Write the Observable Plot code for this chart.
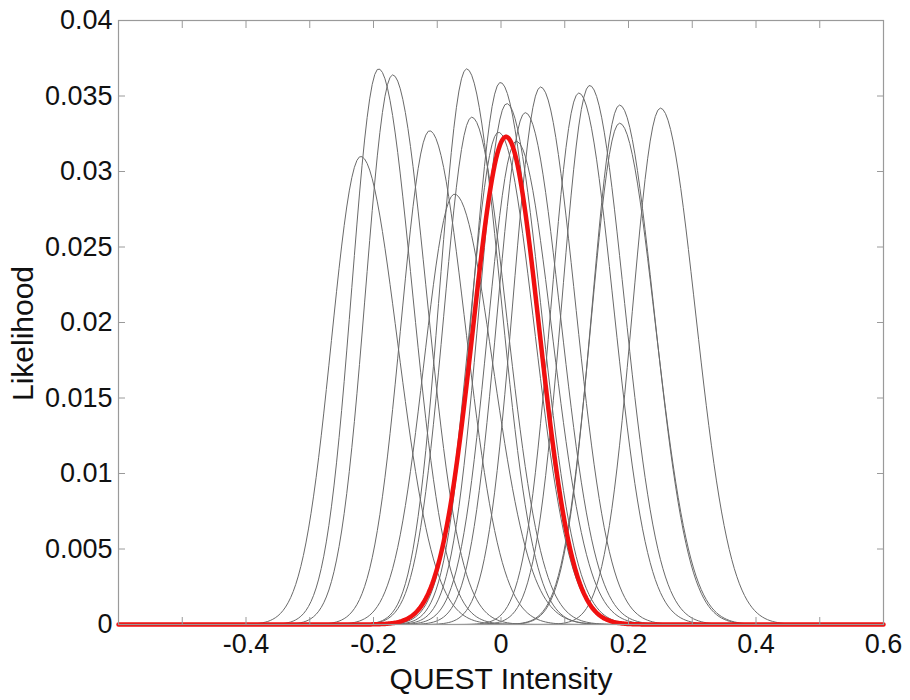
<!DOCTYPE html>
<html><head><meta charset="utf-8">
<script src="https://cdn.jsdelivr.net/npm/d3@7"></script>
<script src="https://cdn.jsdelivr.net/npm/@observablehq/plot@0.6"></script>
<style>body{margin:0;background:#fff} #chart{width:910px;height:700px}</style>
</head><body><div id="chart"></div>
<script>
// Per-trial likelihood curves: peak location, peak height, spread left/right of the peak
const trialPeakX = [-0.220, -0.192, -0.170, -0.112, -0.073, -0.054, -0.046, -0.004, -0.001, 0.009, 0.024, 0.038, 0.062, 0.122, 0.139, 0.186, 0.186, 0.250];
const trialPeakY = [0.0310, 0.0368, 0.0364, 0.0327, 0.0285, 0.0368, 0.0336, 0.0326, 0.0359, 0.0345, 0.0320, 0.0339, 0.0356, 0.0352, 0.0357, 0.0344, 0.0332, 0.0342];
const trialSpreadLeft = [0.046, 0.042, 0.0425, 0.045, 0.048, 0.042, 0.044, 0.045, 0.043, 0.0435, 0.045, 0.044, 0.043, 0.043, 0.043, 0.0435, 0.0445, 0.044];
const trialSpreadRight = [0.0575, 0.0525, 0.053, 0.056, 0.060, 0.0525, 0.055, 0.056, 0.054, 0.054, 0.056, 0.055, 0.054, 0.054, 0.054, 0.054, 0.0555, 0.055];
const trialRange = [-0.43, 0.5];
// Combined (red) likelihood
const finalPeakX = 0.008;
const finalPeakY = 0.0323;
const finalSpread = 0.052;
const finalRange = [-0.6, 0.6];
// Axes
const xDomain = [-0.6, 0.6];
const yDomain = [0, 0.04];
const xTickLabels = [-0.4, -0.2, 0, 0.2, 0.4, 0.6];
const xTickMarks = [-0.5, -0.4, -0.3, -0.2, -0.1, 0, 0.1, 0.2, 0.3, 0.4, 0.5];
const yTicks = [0, 0.005, 0.01, 0.015, 0.02, 0.025, 0.03, 0.035, 0.04];
const xLabel = "QUEST Intensity";
const yLabel = "Likelihood";

const step = 0.004;
const shape = (x, m, h, sl, sr) => h * Math.exp(-0.5 * ((x - m) / (x < m ? sl : sr)) ** 2);
const trialData = [];
trialPeakX.forEach((m, i) => {
  for (const x of d3.range(trialRange[0], trialRange[1] + 1e-9, step)) {
    trialData.push({id: i, x, y: shape(x, m, trialPeakY[i], trialSpreadLeft[i], trialSpreadRight[i])});
  }
});
const finalData = d3.range(finalRange[0], finalRange[1] + 1e-9, step / 2)
  .map(x => ({x, y: shape(x, finalPeakX, finalPeakY, finalSpread, finalSpread)}));

const fmt = d => String(d);
const tickColor = "#9a9a9a";

const chart = Plot.plot({
  width: 910, height: 700,
  marginLeft: 118, marginRight: 27, marginTop: 20, marginBottom: 76,
  style: {fontFamily: "'Liberation Sans', Arial, Helvetica, sans-serif", background: "#fff", color: "#111"},
  x: {domain: xDomain},
  y: {domain: yDomain},
  marks: [
    Plot.line(trialData, {x: "x", y: "y", z: "id", stroke: "#6a6a6a", strokeWidth: 1}),
    Plot.line(finalData, {x: "x", y: "y", stroke: "#f01010", strokeWidth: 4.5}),
    Plot.frame({stroke: tickColor, strokeWidth: 1.2}),
    Plot.axisX(xTickMarks, {anchor: "bottom", tickSize: -7, tickFormat: () => "", label: null, stroke: tickColor}),
    Plot.axisX(xTickMarks, {anchor: "top", tickSize: -7, tickFormat: () => "", label: null, stroke: tickColor}),
    Plot.axisY(yTicks, {anchor: "left", tickSize: -7, tickFormat: () => "", label: null, stroke: tickColor}),
    Plot.axisY(yTicks, {anchor: "right", tickSize: -7, tickFormat: () => "", label: null, stroke: tickColor}),
    Plot.axisX(xTickLabels, {anchor: "bottom", tickSize: 0, tickPadding: 9, tickFormat: fmt, label: null, fontSize: 27, fill: "#111"}),
    Plot.axisY(yTicks, {anchor: "left", tickSize: 0, tickPadding: 6, tickFormat: fmt, label: null, fontSize: 27, fill: "#111"}),
    Plot.text([xLabel], {frameAnchor: "bottom", dy: 43, lineAnchor: "top", fontSize: 30, fill: "#111"}),
    Plot.text([yLabel], {frameAnchor: "left", dx: -95, dy: 11, rotate: -90, lineAnchor: "middle", textAnchor: "middle", fontSize: 30, fill: "#111"})
  ]
});
document.getElementById("chart").append(chart);
</script>
</body></html>
